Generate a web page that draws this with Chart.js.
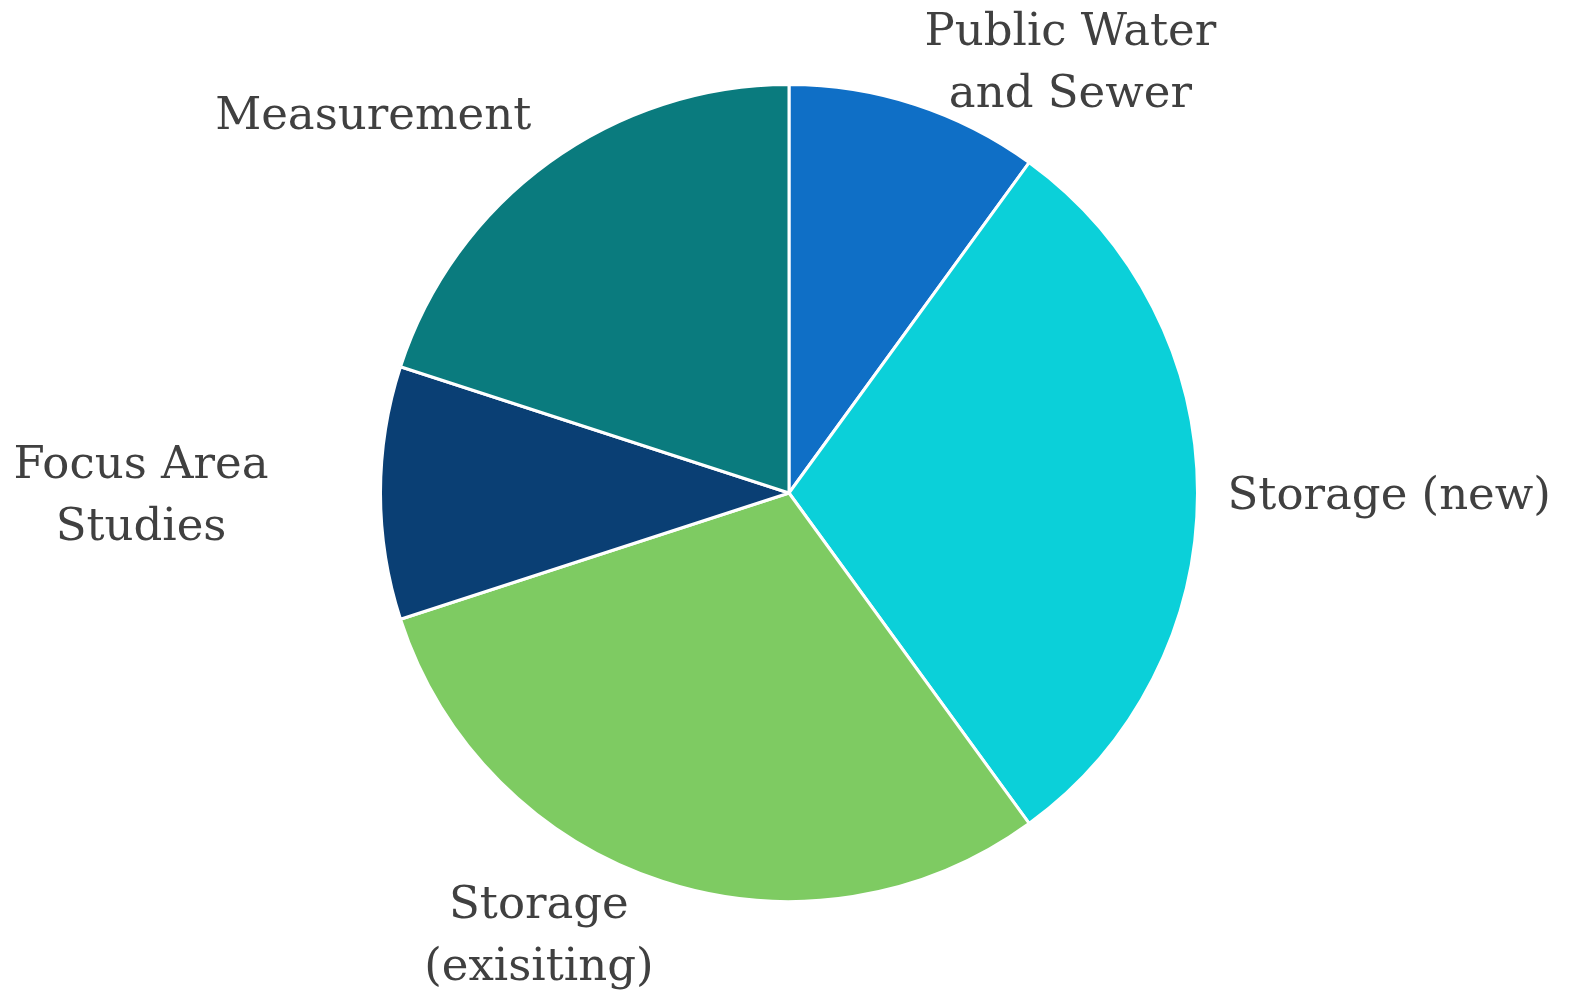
<!DOCTYPE html>
<html>
<head>
<meta charset="utf-8">
<script src="https://cdn.jsdelivr.net/npm/chart.js@4"></script>
<style>
  html, body { margin: 0; padding: 0; background: #fff; overflow: hidden; }
  #wrap { position: relative; width: 1587px; height: 1005px; }
</style>
</head>
<body>
<div id="wrap"><canvas id="pieChart"></canvas></div>
<script>
// categories (line breaks as in the original labels)
const categories = [
    ['Public Water', 'and Sewer'],
    ['Storage (new)'],
    ['Storage', '(exisiting)'],
    ['Focus Area', 'Studies'],
    ['Measurement']
];
// share of each category, percent
const shares = [10, 30, 30, 10, 20];
const sliceColors = ['#0F6FC6', '#0BD0D9', '#7ECB62', '#0A3F74', '#0A7B7E'];

// draws the category labels outside the slices, Excel "best fit" style
const outsideLabels = {
    id: 'outsideLabels',
    afterDraw(chart, args, opts) {
        const ctx = chart.ctx;
        const meta = chart.getDatasetMeta(0);
        const lh = opts.lineHeight;
        ctx.save();
        ctx.font = opts.font;
        ctx.fillStyle = opts.color;
        ctx.textAlign = 'center';
        ctx.textBaseline = 'middle';
        meta.data.forEach((arc, i) => {
            const lines = chart.data.labels[i];
            const p = arc.getProps(['x', 'y', 'startAngle', 'endAngle', 'outerRadius'], true);
            const mid = (p.startAngle + p.endAngle) / 2;
            const ux = Math.cos(mid), uy = Math.sin(mid);
            const d = p.outerRadius + opts.gap;
            const w = Math.max(...lines.map(l => ctx.measureText(l).width));
            const h = lines.length * lh;
            let cx = p.x + ux * d + (ux > 0.1 ? w / 2 : ux < -0.1 ? -w / 2 : 0);
            let cy = p.y + uy * d + uy * h / 2;
            cx = Math.min(Math.max(cx, w / 2), chart.width - w / 2);
            cy = Math.min(Math.max(cy, h / 2), chart.height - h / 2);
            const n = opts.nudge[i] || [0, 0];
            cx += n[0];
            cy += n[1] + opts.shiftY;
            lines.forEach((l, k) => {
                ctx.fillText(l, cx, cy - h / 2 + lh * (k + 0.5));
            });
        });
        ctx.restore();
    }
};

new Chart(document.getElementById('pieChart').getContext('2d'), {
    type: 'pie',
    data: {
        labels: categories,
        datasets: [{
            data: shares,
            backgroundColor: sliceColors,
            borderColor: '#ffffff',
            borderWidth: 3,
            hoverBorderWidth: 3
        }]
    },
    options: {
        responsive: true,
        maintainAspectRatio: false,
        animation: false,
        layout: {
            padding: { top: 83, bottom: 102, left: 379, right: 388 }
        },
        plugins: {
            legend: { display: false },
            tooltip: { enabled: false },
            outsideLabels: {
                font: '45px "DejaVu Serif"',
                color: '#404040',
                lineHeight: 62,
                gap: 30,
                shiftY: 4,
                nudge: [[0, -2], [0, 0], [0, -10], [-82, 0], [0, 0]]
            }
        }
    },
    plugins: [outsideLabels]
});
</script>
</body>
</html>
